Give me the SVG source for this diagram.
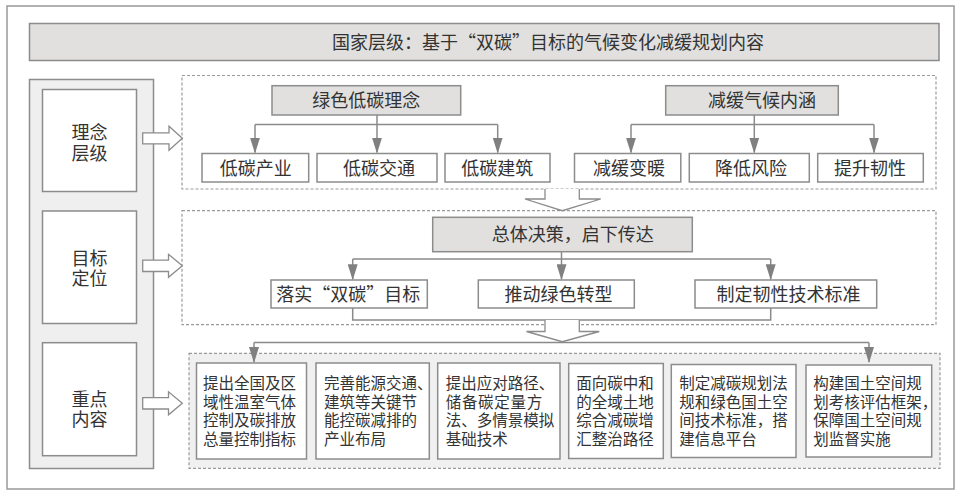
<svg xmlns="http://www.w3.org/2000/svg" width="963" height="499" viewBox="0 0 963 499">
<defs>
<style>
text{font-family:"Noto Sans CJK SC","Noto Sans",sans-serif;fill:#333;}
.t18{font-size:18px;}
.t15{font-size:15.5px;}
.mid{text-anchor:middle;}
.box{fill:#fff;stroke:#8c8c8c;stroke-width:1.5;}
.gbox{fill:#e1e0de;stroke:#8c8c8c;stroke-width:1.5;}
.col{fill:#efefef;stroke:#8c8c8c;stroke-width:1.5;}
.dash{fill:none;stroke:#9a9a9a;stroke-width:1.2;stroke-dasharray:3 2;}
.dashf{fill:#f0f0f0;stroke:#9a9a9a;stroke-width:1.2;stroke-dasharray:3 2;}
.hol{fill:#fff;stroke:#8c8c8c;stroke-width:1.3;}
.con{fill:none;stroke:#8a8a8a;stroke-width:1.5;}
.arr{fill:none;stroke:#8a8a8a;stroke-width:1.5;marker-end:url(#ah);}
</style>
<marker id="ah" viewBox="0 0 16 10" refX="15" refY="5" markerWidth="16" markerHeight="10" markerUnits="userSpaceOnUse" orient="auto">
<path d="M0,0 L16,5 L0,10 Z" fill="#808080"/>
</marker>
</defs>

<rect x="7" y="6" width="947" height="483" fill="#fff" stroke="#999" stroke-width="1.5"/>

<g id="title">
<rect class="gbox" x="29.5" y="23.5" width="909.5" height="37"/>
<text class="t18" x="332" y="49">国家层级：基于“双碳”目标的气候变化减缓规划内容</text>
</g>

<g id="left-column">
<rect class="col" x="29.5" y="79.5" width="124" height="389"/>
</g>
<g id="level-1">
<rect class="box" x="42.5" y="89.5" width="94" height="102"/>
<text class="t18 mid" x="89.5" y="138.5">理念<tspan x="89.5" dy="21">层级</tspan></text>
</g>
<g id="level-2">
<rect class="box" x="42.5" y="211" width="94" height="112.5"/>
<text class="t18 mid" x="89.5" y="265">目标<tspan x="89.5" dy="20">定位</tspan></text>
</g>
<g id="level-3">
<rect class="box" x="42.5" y="342.7" width="94" height="113"/>
<text class="t18 mid" x="89.5" y="406">重点<tspan x="89.5" dy="20">内容</tspan></text>
</g>

<g id="panels">
<rect class="dash" x="182" y="75.5" width="754" height="113.5"/>
<rect class="dash" x="182" y="210.7" width="754" height="114"/>
<rect class="dashf" x="189" y="353.3" width="751" height="115"/>
</g>

<g id="connectors">
<path class="con" d="M377,115 V124.5 M255,124.5 H497.7"/>
<path class="arr" d="M255,124.5 V152.5"/>
<path class="arr" d="M377,124.5 V152.5"/>
<path class="arr" d="M497.7,124.5 V152.5"/>
<path class="con" d="M754.3,115 V124.5 M631,124.5 H874"/>
<path class="arr" d="M631,124.5 V152.5"/>
<path class="arr" d="M754.3,124.5 V152.5"/>
<path class="arr" d="M874,124.5 V152.5"/>
<path class="con" d="M561.5,251.7 V259 M352.7,259 H770.7"/>
<path class="arr" d="M352.7,259 V279.2"/>
<path class="arr" d="M561.5,259 V279.2"/>
<path class="arr" d="M770.7,259 V279.2"/>
<path class="con" d="M352.7,308 V320 H770.7 V308"/>
<path class="con" d="M254,342.5 H869"/>
<path class="arr" d="M254,342.5 V362"/>
<path class="arr" d="M869,342.5 V362"/>
<path class="hol" d="M142.7,132.8 H169 V126.3 L182.3,138.3 L169,150.3 V143.8 H142.7 Z"/>
<path class="hol" d="M142.7,260.1 H168.5 V254.3 L182.3,265.8 L168.5,277.3 V271.5 H142.7 Z"/>
<path class="hol" d="M142.7,397.6 H168.5 V391.8 L182.3,403.3 L168.5,414.8 V409 H142.7 Z"/>
<path class="hol" d="M545,189 V199 H525 L562.3,210.7 L600.7,199 H579.3 V189"/>
<path class="hol" d="M545,320 V331.5 H526.5 L562.3,341.7 L599.3,331.5 H579.3 V320"/>
</g>

<g id="green-lowcarbon">
<rect class="gbox" x="272" y="85.7" width="188.7" height="29.3"/>
<text class="t18 mid" x="366.3" y="107">绿色低碳理念</text>
</g>
<g id="mitigation">
<rect class="gbox" x="665.7" y="85.7" width="172.6" height="29.3"/>
<text class="t18 mid" x="762" y="107">减缓气候内涵</text>
</g>
<g id="n-industry">
<rect class="box" x="202" y="153.5" width="106.7" height="28.5"/>
<text class="t18 mid" x="255.8" y="174.5">低碳产业</text>
</g>
<g id="n-transport">
<rect class="box" x="317" y="153.5" width="120" height="28.5"/>
<text class="t18 mid" x="379" y="174.5">低碳交通</text>
</g>
<g id="n-building">
<rect class="box" x="445" y="153.5" width="105" height="28.5"/>
<text class="t18 mid" x="497.3" y="174.5">低碳建筑</text>
</g>
<g id="n-warming">
<rect class="box" x="574.5" y="153.5" width="106.3" height="28.5"/>
<text class="t18 mid" x="629" y="174.5">减缓变暖</text>
</g>
<g id="n-risk">
<rect class="box" x="689.3" y="153.5" width="120" height="28.5"/>
<text class="t18 mid" x="751" y="174.5">降低风险</text>
</g>
<g id="n-resilience">
<rect class="box" x="817.7" y="153.5" width="105.6" height="28.5"/>
<text class="t18 mid" x="870" y="174.5">提升韧性</text>
</g>

<g id="overall">
<rect class="gbox" x="432.7" y="217.3" width="259.6" height="34.4"/>
<text class="t18" x="491.7" y="241.3">总体决策，启下传达</text>
</g>
<g id="n-dualcarbon">
<rect class="box" x="271" y="280" width="156.3" height="28"/>
<text class="t18" x="276.3" y="300.8">落实“双碳”目标</text>
</g>
<g id="n-transition">
<rect class="box" x="478.3" y="280" width="156" height="28"/>
<text class="t18 mid" x="558.5" y="300.8">推动绿色转型</text>
</g>
<g id="n-standard">
<rect class="box" x="695" y="280" width="181.7" height="28"/>
<text class="t18 mid" x="788.5" y="300.8">制定韧性技术标准</text>
</g>

<g id="k1">
<rect class="box" x="196.5" y="363" width="110" height="96"/>
<text class="t15" x="203" y="389.2">提出全国及区<tspan x="203" dy="18.6">域性温室气体</tspan><tspan x="203" dy="18.6">控制及碳排放</tspan><tspan x="203" dy="18.6">总量控制指标</tspan></text>
</g>
<g id="k2">
<rect class="box" x="316" y="363" width="113.3" height="96"/>
<text class="t15" x="324" y="389.2">完善能源交通、<tspan x="324" dy="18.6">建筑等关键节</tspan><tspan x="324" dy="18.6">能控碳减排的</tspan><tspan x="324" dy="18.6">产业布局</tspan></text>
</g>
<g id="k3">
<rect class="box" x="437.7" y="363" width="122.3" height="96"/>
<text class="t15" x="445.7" y="389.2">提出应对路径、<tspan x="445.7" dy="18.6" letter-spacing="0.7">储备碳定量方</tspan><tspan x="445.7" dy="18.6">法、多情景模拟</tspan><tspan x="445.7" dy="18.6">基础技术</tspan></text>
</g>
<g id="k4">
<rect class="box" x="568.7" y="363.5" width="94.6" height="95"/>
<text class="t15" x="576.3" y="389.2">面向碳中和<tspan x="576.3" dy="18.6">的全域土地</tspan><tspan x="576.3" dy="18.6">综合减碳增</tspan><tspan x="576.3" dy="18.6">汇整治路径</tspan></text>
</g>
<g id="k5">
<rect class="box" x="671.3" y="364.5" width="124.7" height="93"/>
<text class="t15" x="679.3" y="389.2">制定减碳规划法<tspan x="679.3" dy="18.6">规和绿色国土空</tspan><tspan x="679.3" dy="18.6">间技术标准，搭</tspan><tspan x="679.3" dy="18.6">建信息平台</tspan></text>
</g>
<g id="k6">
<rect class="box" x="806" y="365" width="125.7" height="92"/>
<text class="t15" x="813.3" y="389.2">构建国土空间规<tspan x="813.3" dy="18.6">划考核评估框架，</tspan><tspan x="813.3" dy="18.6">保障国土空间规</tspan><tspan x="813.3" dy="18.6">划监督实施</tspan></text>
</g>
</svg>
